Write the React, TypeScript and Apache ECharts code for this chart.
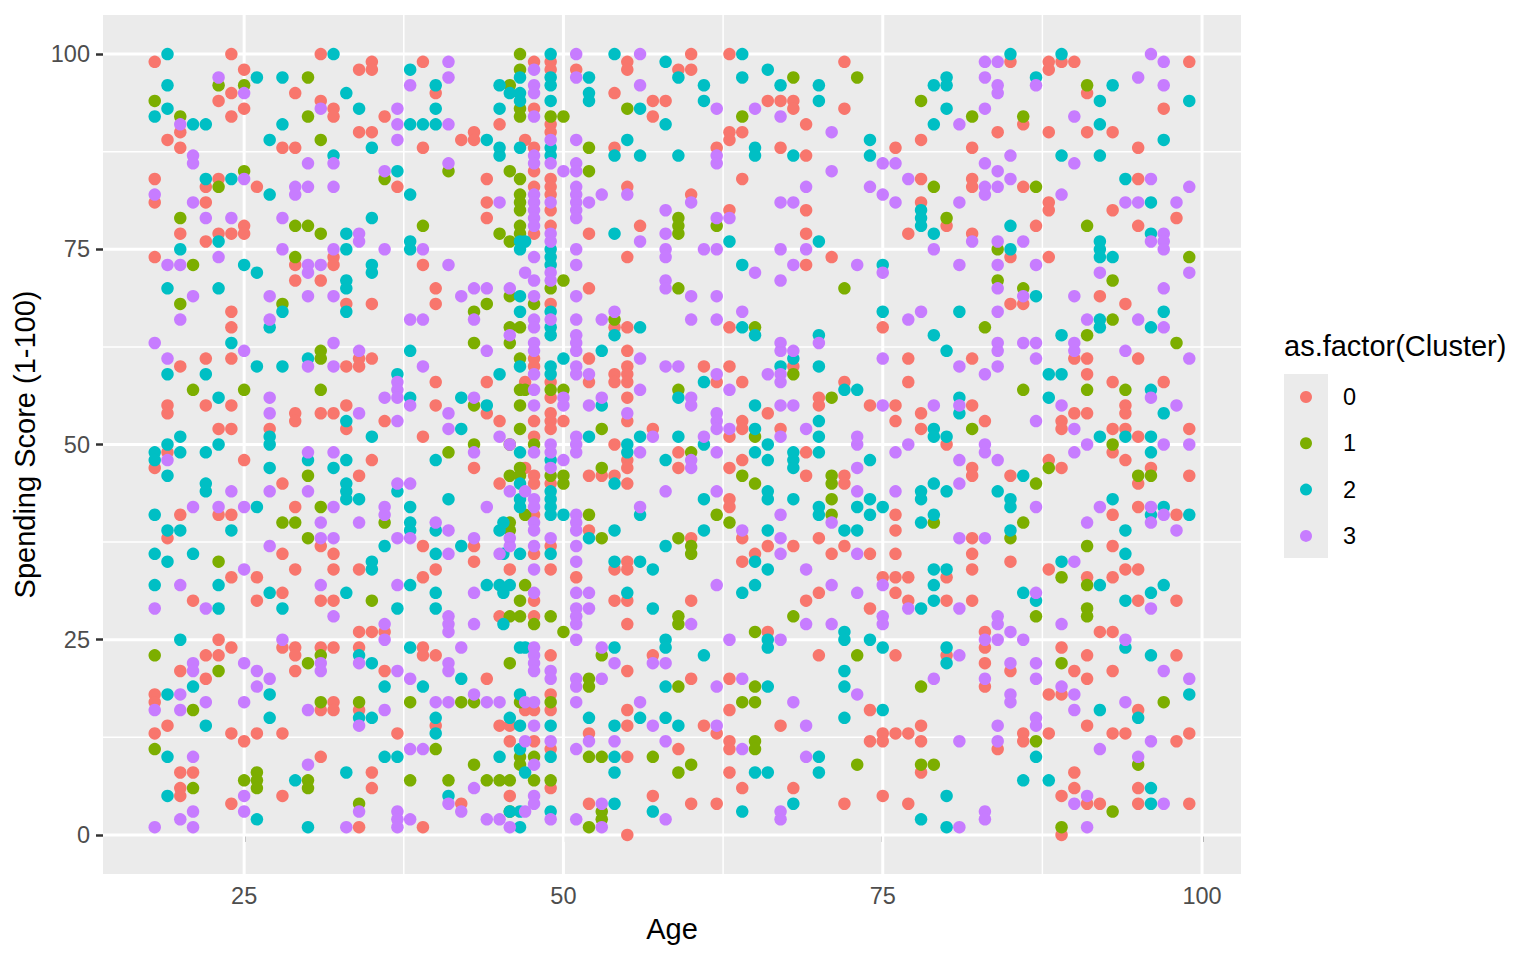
import { useEffect, useRef } from 'react';
import * as echarts from 'echarts';

// [age, spending scores at that age]
type Column = [number, number[]];

const clusterNames = ['0', '1', '2', '3'];
const clusterColors = ['#F8766D', '#7CAE00', '#00BFC4', '#C77CFF'];

const xTicks = [25, 50, 75, 100];
const xMinorTicks = [37.5, 62.5, 87.5];
const yTicks = [0, 25, 50, 75, 100];
const yMinorTicks = [12.5, 37.5, 62.5, 87.5];

const cluster0: Column[] = [
  [18, [99, 84, 81, 74, 47, 18, 17, 13]],
  [19, [89, 55, 54, 49, 38, 14]],
  [20, [90, 88, 77, 60, 41, 21, 8, 6, 5]],
  [21, [30, 8]],
  [22, [83, 81, 76, 61, 55, 23, 20]],
  [23, [94, 84, 77, 52, 41, 25, 23]],
  [24, [100, 95, 92, 77, 67, 65, 61, 55, 52, 41, 33, 24, 13, 4]],
  [25, [98, 93, 78, 77, 48, 12]],
  [26, [83, 33, 30, 13]],
  [27, [52]],
  [28, [88, 45, 36, 31, 24, 13, 5]],
  [29, [95, 88, 73, 71, 54, 53, 42, 34, 24, 23, 21]],
  [31, [100, 94, 71, 54, 37, 30, 24, 16, 10]],
  [32, [93, 92, 74, 73, 54, 36, 34, 30, 24, 17, 16]],
  [33, [68, 60, 55, 52]],
  [34, [98, 90, 61, 60, 46, 34, 26, 24, 16, 1]],
  [35, [99, 98, 90, 68, 61, 48, 26, 8, 6]],
  [36, [92, 53, 26, 21]],
  [37, [83, 13]],
  [39, [99, 88, 73, 51, 37, 33, 24, 23, 1]],
  [40, [95, 70, 68, 58, 55, 34, 23, 14]],
  [42, [89, 4]],
  [43, [90, 89, 47, 37, 35]],
  [44, [84, 81, 79, 58, 54, 20]],
  [45, [91, 53, 45, 28, 14]],
  [45.8, [34, 14, 12, 5]],
  [47, [89, 58, 47, 16]],
  [47.7, [99, 93, 88, 85, 83, 77, 61, 60, 53, 51, 46, 45, 41, 36, 30, 28, 16, 12]],
  [49, [99, 98, 91, 90, 84, 83, 82, 80, 78, 68, 58, 56, 54, 53, 52, 45, 37, 34, 23, 18, 16, 11, 6]],
  [50, [53]],
  [51, [98, 33]],
  [52, [77, 70, 61, 58, 46, 39, 13, 4]],
  [53, [46]],
  [54, [95, 88, 65, 59, 58, 50, 46, 34, 30]],
  [55, [99, 98, 83, 74, 65, 62, 60, 59, 58, 56, 53, 48, 47, 45, 35, 34, 30, 27, 21, 16, 14, 10, 0]],
  [56, [78]],
  [57, [94, 92, 52, 23, 5]],
  [58, [94]],
  [59, [98, 49, 47, 11]],
  [60, [100, 98, 82, 38, 30, 20, 4]],
  [61, [60, 14]],
  [62, [88, 58, 13, 4]],
  [63, [100, 90, 89, 80, 65, 60, 51, 47, 43, 42, 20, 16, 12, 11, 8]],
  [64, [90, 84, 58, 53, 52, 48, 38, 35, 6]],
  [65, [36]],
  [66, [94, 54, 37, 26]],
  [67, [94, 88, 52, 14]],
  [68, [94, 93, 60, 37, 6]],
  [69, [91, 87, 80, 77, 73, 49, 46, 30]],
  [70, [56, 55, 38, 31, 23]],
  [71, [74, 36]],
  [72, [99, 93, 58, 46, 45, 37, 4]],
  [74, [55, 36, 29, 16, 12]],
  [75, [65, 33, 13, 12, 5]],
  [76, [88, 55, 53, 41, 39, 36, 33, 31, 23, 13]],
  [77, [77, 61, 58, 33, 30, 13, 4]],
  [78, [89, 84, 81, 54, 52, 14, 12, 8]],
  [80, [78, 50, 33, 30, 23]],
  [82, [88, 84, 83, 77, 61, 55, 47, 46, 38, 36, 34, 30]],
  [83, [53, 26, 24, 22, 19]],
  [84, [90, 11]],
  [85, [99, 74, 68, 46, 35, 21]],
  [86, [91, 83, 68, 13, 12]],
  [87, [78]],
  [88, [99, 98, 90, 81, 80, 74, 48, 34, 18, 13]],
  [89, [99, 53, 52, 47, 24, 18, 5, 0]],
  [90, [99, 61, 54, 21, 8, 6]],
  [91, [95, 90, 61, 59, 54, 33, 23, 20, 14, 4]],
  [92, [69, 26, 4]],
  [93, [90, 80, 58, 52, 49, 41, 37, 33, 26, 21, 13]],
  [94, [68, 55, 54, 52, 48, 34, 13]],
  [95, [88, 84, 78, 61, 51, 45, 42, 34, 30, 16, 6, 4]],
  [96, [47]],
  [97, [93, 58]],
  [98, [79, 41, 30, 23, 12]],
  [99, [99, 52, 46, 13, 4]],
];

const cluster1: Column[] = [
  [18, [94, 23, 11]],
  [20, [92, 79, 68]],
  [21, [73, 57, 16, 6]],
  [23, [96, 83, 35, 21]],
  [25, [96, 85, 57, 7]],
  [26, [8, 7, 6]],
  [28, [68, 40]],
  [29, [78, 74, 40]],
  [30, [97, 92, 78, 46, 38, 22, 7, 6]],
  [31, [89, 77, 62, 61, 57, 42, 23, 17]],
  [34, [17, 4]],
  [35, [30]],
  [36, [84, 40]],
  [38, [17, 7]],
  [39, [78]],
  [40, [11]],
  [41, [85, 49, 7]],
  [42, [17]],
  [43, [67, 63, 55, 50, 17, 9]],
  [44, [68, 7]],
  [45, [77, 7]],
  [45.8, [96, 85, 76, 69, 65, 63, 50, 46, 40, 39, 28, 22, 7, 3]],
  [46.6, [100, 98, 93, 92, 84, 82, 81, 80, 78, 77, 65, 61, 57, 55, 52, 47, 46, 30, 28, 17, 10, 9]],
  [47, [57, 41, 32]],
  [47.7, [68, 50, 27, 10, 7]],
  [49, [92, 70, 57, 46, 28, 17, 7]],
  [50, [92, 71, 57, 46, 45, 26]],
  [52, [88, 85, 41, 20, 19, 10, 1]],
  [53, [52, 47, 38, 23, 10, 3, 2]],
  [54, [66]],
  [55, [93]],
  [57, [10]],
  [59, [79, 78, 77, 70, 57, 38, 28, 27, 19, 8]],
  [60, [49, 37, 36, 9]],
  [62, [78, 41]],
  [63, [40]],
  [64, [92, 46, 17]],
  [65, [65, 51, 45, 26, 19, 17, 12, 11]],
  [68, [97, 59, 28]],
  [71, [56, 46, 45, 43, 41]],
  [72, [70]],
  [73, [97, 23, 9]],
  [78, [94, 19, 9]],
  [79, [83, 40, 9]],
  [80, [79]],
  [82, [92, 52]],
  [83, [65]],
  [84, [75, 71]],
  [85, [38]],
  [86, [92, 70, 57, 40]],
  [87, [83, 45, 28, 12]],
  [88, [47]],
  [89, [33, 22, 1]],
  [91, [96, 78, 64, 57, 37, 32, 29, 28]],
  [93, [71, 66, 50, 3]],
  [94, [57]],
  [95, [46, 9]],
  [96, [46]],
  [97, [17]],
  [98, [63]],
  [99, [74]],
];

const cluster2: Column[] = [
  [18, [92, 49, 48, 41, 36, 32]],
  [19, [100, 96, 93, 70, 59, 50, 46, 39, 35, 18, 10, 5]],
  [20, [75, 51, 49, 39, 25]],
  [21, [91, 36, 19]],
  [22, [91, 84, 59, 49, 45, 44, 14]],
  [23, [76, 70, 56, 50, 32, 29]],
  [24, [84, 63, 39]],
  [25, [73]],
  [26, [97, 72, 60, 42, 2]],
  [27, [89, 82, 65, 51, 50, 47, 31, 18, 15]],
  [28, [97, 91, 67, 60, 29]],
  [29, [7]],
  [30, [61, 48, 1]],
  [32, [100, 87, 47]],
  [33, [95, 77, 75, 71, 70, 67, 53, 48, 45, 44, 43, 31, 8]],
  [34, [93, 43, 23, 15]],
  [35, [88, 79, 73, 72, 51, 35, 34, 22, 15]],
  [36, [37, 19, 10]],
  [37, [85, 59, 44, 29, 10]],
  [38, [98, 91, 82, 76, 75, 62, 56, 42, 40, 39, 32, 24]],
  [39, [91, 19]],
  [40, [96, 93, 91, 48, 39, 36, 31, 29, 15, 13]],
  [41, [43, 5]],
  [42, [56, 52, 37, 20]],
  [44, [89, 55, 32]],
  [45, [96, 93, 88, 87, 59, 39, 32, 10]],
  [45.3, [40, 36, 31, 27]],
  [45.8, [95, 32, 15, 3]],
  [46.6, [97, 95, 94, 88, 76, 75, 69, 67, 60, 49, 45, 43, 42, 36, 24, 18, 14, 11, 3, 1]],
  [47, [76, 24, 8]],
  [49, [100, 97, 96, 94, 88, 87, 75, 74, 73, 67, 65, 64, 60, 59, 48, 44, 43, 42, 41, 36, 14, 10, 3]],
  [50, [61, 41]],
  [52, [97, 95, 94, 51, 38, 15]],
  [53, [62, 55]],
  [54, [100, 87, 77, 64, 45, 39, 35, 24, 14, 10, 8, 4]],
  [55, [89, 50, 49, 31]],
  [56, [93, 87, 65, 51, 41, 35, 15]],
  [57, [34, 29, 3]],
  [58, [99, 91, 48, 37, 25, 24, 19, 15]],
  [59, [97, 87, 56, 51, 14]],
  [61, [96, 94, 58, 50, 43, 39, 23]],
  [63, [76]],
  [64, [100, 97, 73, 65, 31, 3]],
  [65, [88, 87, 64, 55, 52, 49, 35, 32, 8]],
  [66, [98, 50, 48, 44, 43, 39, 34, 25, 24, 19, 8]],
  [67, [96, 60]],
  [68, [87, 61, 49, 48, 47, 43, 4]],
  [70, [96, 94, 76, 64, 60, 53, 51, 49, 42, 41, 10, 8]],
  [72, [57, 39, 26, 25, 21, 19, 15]],
  [73, [57, 42, 39]],
  [74, [89, 87, 48, 43, 41, 25]],
  [75, [73, 67, 42, 24, 16]],
  [78, [80, 79, 78, 44, 43, 40, 29, 2]],
  [79, [96, 91, 77, 64, 52, 51, 45, 41, 34, 32, 30]],
  [80, [97, 96, 93, 62, 51, 44, 34, 24, 22, 5, 1]],
  [81, [67, 56, 54]],
  [84, [44]],
  [85, [100, 78, 75, 43, 42, 39]],
  [86, [46, 31, 7]],
  [87, [97, 69, 30, 10]],
  [88, [59, 56, 7]],
  [89, [100, 87, 64, 59, 35]],
  [92, [94, 91, 87, 76, 75, 74, 66, 65, 51, 32, 16]],
  [93, [96, 74, 43]],
  [94, [84, 51, 39, 36, 30, 24]],
  [95, [15]],
  [96, [81, 77, 65, 57, 51, 49, 41, 31, 23, 6, 4]],
  [97, [89, 67, 54, 42, 32]],
  [99, [94, 41, 18]],
];

const cluster3: Column[] = [
  [18, [82, 63, 29, 16, 1]],
  [19, [73, 61, 48]],
  [20, [91, 73, 66, 32, 18, 16, 2]],
  [21, [87, 86, 81, 69, 42, 22, 21, 10, 3, 1]],
  [22, [79, 29, 17]],
  [23, [97, 74, 42]],
  [24, [79, 44]],
  [25, [95, 84, 62, 42, 34, 22, 17, 5, 3]],
  [26, [21, 19]],
  [27, [69, 66, 56, 54, 44, 37, 20]],
  [28, [79, 75, 25]],
  [29, [83, 82]],
  [30, [86, 83, 73, 72, 69, 60, 49, 44, 16, 9]],
  [31, [93, 73, 40, 38, 32, 22, 21]],
  [32, [86, 83, 75, 69, 63, 60, 49, 42, 38, 28]],
  [33, [1]],
  [34, [77, 76, 62, 54, 40, 22, 14, 3]],
  [36, [85, 75, 56, 42, 41, 27, 25, 16]],
  [37, [93, 91, 89, 58, 57, 56, 53, 45, 38, 32, 21, 3, 2, 1]],
  [38, [96, 66, 55, 45, 38, 20, 11, 2]],
  [39, [75, 66, 60, 11]],
  [40, [40, 17]],
  [41, [99, 97, 91, 86, 73, 54, 52, 39, 36, 28, 27, 26, 22, 21, 17, 4]],
  [42, [69, 24, 3]],
  [43, [70, 66, 56, 49, 38, 31, 27, 18, 6]],
  [44, [70, 62, 42, 17, 2]],
  [45, [81, 51, 36, 17, 2]],
  [45.8, [70, 64, 50, 44, 38, 37, 1]],
  [47, [72, 44, 17, 12, 3]],
  [47.7, [98, 96, 95, 92, 87, 86, 82, 81, 80, 79, 78, 74, 71, 69, 66, 65, 63, 62, 59, 57, 55, 49, 43, 42, 40, 39, 37, 34, 31, 24, 23, 22, 21, 17, 14, 9, 5, 4]],
  [49, [89, 86, 81, 77, 76, 72, 71, 66, 50, 49, 47, 38, 21, 20, 12, 2]],
  [50, [85, 56, 55, 48]],
  [51, [100, 97, 89, 86, 85, 83, 82, 81, 80, 79, 75, 73, 69, 66, 64, 63, 62, 60, 59, 51, 50, 49, 41, 40, 39, 37, 35, 31, 29, 28, 27, 25, 20, 19, 17, 11, 2]],
  [52, [81, 59, 55, 31, 29, 12]],
  [53, [82, 66, 56, 24, 20, 4, 1]],
  [54, [67, 22, 12]],
  [55, [82, 54]],
  [56, [100, 96, 76, 61, 57, 49, 42, 17]],
  [57, [51, 22, 14]],
  [58, [80, 77, 75, 74, 71, 70, 60, 44, 22, 12, 2]],
  [59, [60]],
  [60, [81, 69, 66, 56, 55, 48, 47, 27]],
  [61, [75, 51]],
  [62, [93, 87, 86, 79, 75, 69, 66, 59, 54, 53, 52, 49, 44, 32, 19, 14]],
  [63, [79, 57, 52, 25]],
  [64, [67, 39, 20, 11]],
  [65, [93, 72]],
  [66, [59]],
  [67, [92, 81, 75, 71, 63, 62, 59, 58, 55, 51, 41, 38, 36, 25, 3, 2]],
  [68, [81, 73, 62, 55, 17]],
  [69, [83, 75, 52, 34, 27, 14, 10]],
  [70, [63]],
  [71, [90, 85, 40, 32, 27]],
  [73, [73, 51, 50, 47, 44, 36, 31, 18]],
  [74, [83]],
  [75, [86, 82, 72, 61, 55, 32, 28, 27]],
  [76, [86, 81, 49, 44]],
  [77, [84, 66, 50, 29]],
  [78, [67]],
  [79, [75, 55, 20]],
  [81, [91, 81, 73, 60, 55, 48, 45, 38, 29, 23, 12, 1]],
  [82, [76]],
  [83, [99, 97, 93, 86, 83, 82, 59, 50, 49, 38, 25, 20, 3, 2]],
  [84, [99, 96, 95, 85, 83, 76, 73, 70, 67, 63, 62, 60, 48, 28, 27, 25, 14, 12]],
  [85, [87, 84, 26, 22, 18, 17]],
  [86, [76, 69, 63, 25]],
  [87, [96, 73, 63, 61, 53, 42, 31, 22, 20, 15, 14]],
  [89, [82, 55, 27, 19]],
  [90, [92, 86, 69, 63, 62, 52, 49, 35, 18, 16, 4]],
  [91, [66, 50, 40, 5, 1]],
  [92, [72, 42, 11]],
  [94, [81, 62, 25, 17]],
  [95, [97, 81, 66, 10]],
  [96, [100, 84, 76, 56, 42, 40, 29, 12]],
  [97, [99, 96, 77, 76, 75, 70, 65, 50, 41, 21, 4]],
  [98, [81, 55, 39]],
  [99, [83, 72, 61, 50, 20]],
];

const clusters = [cluster0, cluster1, cluster2, cluster3];

// ggplot's 5% expansion of the data range
const X_MIN = 13.95;
const X_MAX = 103.05;
const Y_MIN = -5;
const Y_MAX = 105;

const FONT = '"Liberation Sans", Arial, Helvetica, sans-serif';

const toPoints = (cols: Column[]) =>
  cols.flatMap(([age, scores]) => scores.map((s) => [age, s]));

function gridLineSeries(values: number[], vertical: boolean, width: number) {
  return values.map((v) => ({
    type: 'line',
    silent: true,
    symbol: 'none',
    z: 1,
    lineStyle: { color: '#FFFFFF', width },
    data: vertical
      ? [[v, Y_MIN], [v, Y_MAX]]
      : [[X_MIN, v], [X_MAX, v]],
  }));
}

export default function App() {
  const chartRef = useRef<HTMLDivElement>(null);

  useEffect(() => {
    if (!chartRef.current) return;
    document.body.style.margin = '0';

    const chart = echarts.init(chartRef.current, null, { renderer: 'svg' });

    const option: any = {
      animation: false,
      backgroundColor: '#FFFFFF',
      textStyle: { fontFamily: FONT },
      grid: {
        left: 103,
        top: 15,
        width: 1138,
        height: 859,
        show: true,
        backgroundColor: '#EBEBEB',
        borderWidth: 0,
      },
      xAxis: {
        type: 'value',
        min: X_MIN,
        max: X_MAX,
        name: 'Age',
        nameLocation: 'middle',
        nameGap: 40,
        nameTextStyle: { color: '#000000', fontSize: 29, fontFamily: FONT },
        axisLine: { show: false },
        axisTick: {
          show: true,
          length: 7,
          customValues: xTicks,
          lineStyle: { color: '#333333', width: 2.5 },
        },
        axisLabel: {
          customValues: xTicks,
          color: '#4D4D4D',
          fontSize: 23.5,
          margin: 10,
          fontFamily: FONT,
        },
        splitLine: { show: false },
      },
      yAxis: {
        type: 'value',
        min: Y_MIN,
        max: Y_MAX,
        name: 'Spending Score (1-100)',
        nameLocation: 'middle',
        nameGap: 60,
        nameTextStyle: { color: '#000000', fontSize: 29, fontFamily: FONT },
        axisLine: { show: false },
        axisTick: {
          show: true,
          length: 7,
          customValues: yTicks,
          lineStyle: { color: '#333333', width: 2.5 },
        },
        axisLabel: {
          customValues: yTicks,
          color: '#4D4D4D',
          fontSize: 23.5,
          margin: 13,
          fontFamily: FONT,
        },
        splitLine: { show: false },
      },
      legend: {
        orient: 'vertical',
        left: 1295,
        top: 380,
        itemWidth: 64,
        itemHeight: 12,
        itemGap: 22.3,
        icon: 'circle',
        data: clusterNames,
        textStyle: { color: '#000000', fontSize: 23.5, lineHeight: 24, fontFamily: FONT },
        selectedMode: false,
      },
      graphic: [
        {
          type: 'text',
          left: 1284,
          top: 331,
          style: { text: 'as.factor(Cluster)', fill: '#000000', fontSize: 29, fontFamily: FONT },
        },
        {
          type: 'rect',
          left: 1284,
          top: 374,
          z: -1,
          shape: { width: 44, height: 184 },
          style: { fill: '#EBEBEB' },
        },
      ],
      series: [
        ...gridLineSeries(xMinorTicks, true, 1.5),
        ...gridLineSeries(yMinorTicks, false, 1.5),
        ...gridLineSeries(xTicks, true, 3),
        ...gridLineSeries(yTicks, false, 3),
        ...clusters.map((cols, i) => ({
          name: clusterNames[i],
          type: 'scatter',
          z: 3,
          symbol: 'circle',
          symbolSize: 12.5,
          itemStyle: { color: clusterColors[i], opacity: 1 },
          data: toPoints(cols),
        })),
      ],
    };

    chart.setOption(option);

    return () => {
      chart.dispose();
    };
  }, []);

  return <div ref={chartRef} style={{ width: 1536, height: 960 }} />;
}
